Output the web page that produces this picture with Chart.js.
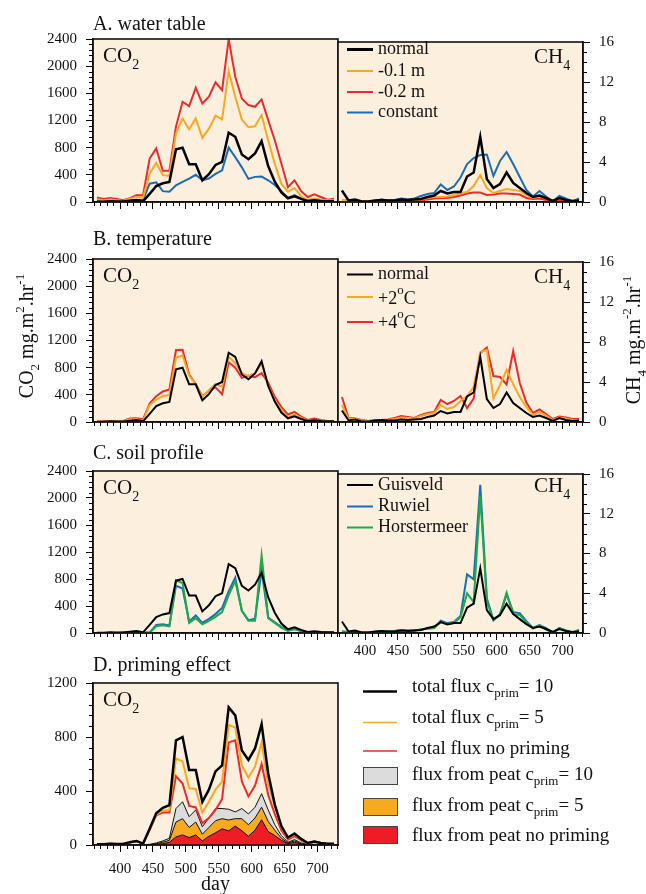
<!DOCTYPE html>
<html><head><meta charset="utf-8">
<script src="https://cdn.jsdelivr.net/npm/chart.js@4/dist/chart.umd.min.js"></script>
<style>
html,body{margin:0;padding:0;background:#fff;}
body{width:646px;height:894px;position:relative;overflow:hidden;}
canvas{position:absolute;}
</style>
</head><body>
<script>
// ---------------- data ----------------
const days = [365,375,385,395,405,415,425,435,445,455,465,475,485,495,505,515,525,535,545,555,565,575,585,595,605,615,625,635,645,655,665,675,685,695,705,715,725];
const xTickLabels = [400,450,500,550,600,650,700];

// A. water table
const co2Normal   = [5,5,10,8,8,20,30,10,120,235,275,295,775,800,555,555,320,410,545,590,1020,960,700,630,715,895,530,300,140,55,85,45,15,25,15,10,10];
const co2Wt01     = [40,25,35,25,15,50,75,65,420,575,395,385,1010,1230,1070,1230,945,1080,1270,1215,1930,1550,1215,1100,1115,1280,910,565,270,150,205,85,25,50,35,25,25];
const co2Wt02     = [65,45,60,45,25,55,100,100,640,790,460,460,1110,1476,1412,1683,1451,1550,1761,1648,2400,1845,1525,1427,1402,1510,1205,910,566,221,320,162,74,113,74,34,49];
const co2Const    = [25,15,20,15,10,25,30,30,270,290,160,150,245,295,345,400,320,345,415,465,800,660,510,340,370,375,320,250,160,60,100,50,10,30,20,10,15];
const ch4Normal   = [1.15,0.15,0.25,0.05,0.05,0.15,0.2,0.15,0.15,0.25,0.2,0.25,0.3,0.5,0.65,1.1,0.85,1.0,1.0,2.55,2.95,6.5,2.3,1.4,1.8,2.95,1.9,1.4,0.9,0.5,0.65,0.4,0.1,0.4,0.2,0.1,0.15];
const ch4Wt01     = [0.2,0.15,0.15,0.1,0.1,0.1,0.15,0.15,0.15,0.2,0.2,0.2,0.25,0.4,0.5,0.5,0.55,0.7,0.9,1.0,1.6,2.7,1.4,0.9,1.1,1.3,1.2,1.1,0.7,0.4,0.55,0.4,0.1,0.35,0.2,0.1,0.15];
const ch4Wt02     = [0.1,0.1,0.1,0.05,0.05,0.05,0.1,0.1,0.1,0.1,0.1,0.1,0.15,0.25,0.35,0.4,0.4,0.5,0.65,0.85,0.95,0.95,0.7,0.75,0.85,0.85,0.8,0.75,0.4,0.3,0.35,0.2,0.05,0.2,0.15,0.05,0.1];
const ch4Const    = [0.15,0.15,0.1,0.05,0.1,0.1,0.25,0.15,0.2,0.35,0.25,0.35,0.6,0.8,0.9,1.75,1.2,1.55,2.45,3.8,4.4,4.7,4.75,2.6,4.1,5.0,3.8,2.5,1.2,0.55,1.1,0.55,0.05,0.6,0.35,0.05,0.35];

// B. temperature
const co2Plus2    = [5,5,10,10,10,40,40,15,250,330,380,400,950,980,680,560,370,470,560,520,960,870,720,680,720,860,540,320,180,70,110,60,20,30,20,10,10];
const co2Plus4    = [5,10,10,10,15,50,55,40,270,380,450,480,1060,1065,700,560,380,460,510,410,880,800,650,680,660,720,580,370,220,110,150,80,30,50,30,15,10];
const ch4Plus2    = [1.7,0.3,0.3,0.15,0.1,0.15,0.15,0.2,0.3,0.45,0.4,0.35,0.6,0.8,0.9,1.7,1.3,1.5,2.1,2.6,3.5,7.0,7.2,2.35,3.7,5.2,3.8,2.5,1.5,0.7,1.0,0.65,0.2,0.45,0.35,0.2,0.2];
const ch4Plus4    = [2.5,0.4,0.35,0.2,0.1,0.2,0.2,0.25,0.4,0.6,0.5,0.4,0.7,0.9,1.0,2.2,1.8,2.1,2.6,1.4,2.35,6.9,7.45,4.6,4.5,3.75,7.1,3.9,1.95,0.9,1.25,0.8,0.3,0.55,0.45,0.3,0.3];

// C. soil profile
const co2Ruwiel   = [0,0,0,0,5,10,10,5,10,120,130,110,700,660,170,260,150,210,280,370,620,820,330,190,210,930,230,160,90,40,60,30,5,15,10,5,5];
const co2Horst    = [0,0,0,0,5,10,10,5,5,100,115,100,780,740,150,220,130,180,240,310,560,770,330,180,180,1150,220,150,80,30,60,30,5,15,10,5,5];
const ch4Ruwiel   = [0.15,0.1,0.15,0.05,0.05,0.1,0.15,0.15,0.2,0.3,0.25,0.25,0.35,0.45,0.5,1.25,1.0,1.1,1.7,5.9,5.4,14.9,3.5,1.3,1.9,3.9,2.1,2.0,1.2,0.5,0.8,0.5,0.05,0.5,0.25,0.05,0.3];
const ch4Horst    = [0.15,0.1,0.15,0.05,0.05,0.1,0.15,0.15,0.2,0.3,0.25,0.25,0.35,0.45,0.5,1.1,0.9,1.0,1.6,4.0,3.1,13.8,3.2,1.3,1.8,4.05,1.9,1.8,1.1,0.45,0.8,0.35,0.05,0.5,0.25,0.05,0.3];

// D. priming effect
const totC5       = [5,5,10,8,8,20,30,10,115,225,255,260,640,620,420,415,240,320,410,470,890,870,590,500,580,760,450,290,130,50,80,40,15,25,15,10,10];
const totNoPrim   = [5,5,10,8,8,20,30,10,110,220,240,240,510,455,290,278,162,200,260,340,760,775,470,360,440,600,370,230,110,40,65,35,10,25,15,5,5];
const peatC10     = [0,0,0,0,0,0,0,0,5,15,30,50,270,320,210,260,135,200,270,270,265,245,270,230,280,380,260,150,70,20,40,15,5,5,3,2,2];
const peatC5      = [0,0,0,0,0,0,0,0,3,10,20,35,170,195,130,170,80,130,180,195,185,195,195,150,200,280,175,110,50,15,30,10,3,3,2,1,1];
const peatNoPrim  = [0,0,0,0,0,0,0,0,2,5,10,20,60,75,55,75,30,65,90,120,105,140,105,65,110,187,100,70,35,10,20,5,2,2,1,0,0];

// ---------------- style ----------------
const FONT = "'Liberation Serif','Times New Roman',serif";
const BG = '#FDEFDD';
const C_BLACK = '#000000', C_ORANGE = '#F8A823', C_RED = '#EE2A2A', C_BLUE = '#1A6DB5', C_GREEN = '#1DAA4A';
const X_MIN = 359, X_MAX = 731;
const L = 93, MID = 338, R = 583;

function pts(ys){ return days.map((d,i)=>({x:d, y:ys[i]})); }
function line(label, ys, color, w){ return {label, data:pts(ys), borderColor:color, borderWidth:w, pointRadius:0, tension:0, fill:false}; }
function area(label, ys, color){ return {label, data:pts(ys), borderColor:'#111', borderWidth:1, backgroundColor:color, pointRadius:0, tension:0, fill:'origin'}; }

function rich(ctx, x, y, parts, base){
  let cx = x;
  for (const p of parts){
    ctx.font = (p.s||base) + 'px ' + FONT;
    ctx.fillText(p.t, cx, y + (p.dy||0));
    cx += ctx.measureText(p.t).width;
  }
  return cx - x;
}
function richW(ctx, parts, base){
  let w = 0;
  for (const p of parts){ ctx.font = (p.s||base) + 'px ' + FONT; w += ctx.measureText(p.t).width; }
  return w;
}

function makeChart(o){
  const cv = document.createElement('canvas');
  cv.width = o.cw; cv.height = o.ch;
  cv.style.left = o.cx + 'px'; cv.style.top = o.cy + 'px';
  cv.style.width = o.cw + 'px'; cv.style.height = o.ch + 'px';
  document.body.appendChild(cv);
  const yLeft = o.yPos === 'left';
  const pad = {top: o.aT - o.cy, bottom: 0, left: yLeft ? 0 : o.aL - o.cx, right: yLeft ? (o.cx + o.cw - o.aR) : 0};
  const yW = yLeft ? (o.aL - o.cx) : (o.cx + o.cw - o.aR);
  const xH = o.cy + o.ch - o.aB;
  const tickFont = {family: FONT, size: 15};
  const deco = {
    id: 'deco',
    beforeDraw(chart){
      const a = chart.chartArea, ctx = chart.ctx;
      ctx.save(); ctx.fillStyle = BG; ctx.fillRect(a.left, a.top, a.right - a.left, a.bottom - a.top); ctx.restore();
    },
    afterDatasetsDraw(chart){
      const a = chart.chartArea, ctx = chart.ctx, xs = chart.scales.x, ys = chart.scales.y;
      ctx.save();
      ctx.strokeStyle = '#000'; ctx.lineWidth = 1;
      ctx.beginPath();
      for (let v = Math.ceil(xs.min/10)*10; v <= xs.max; v += 10){
        if (v % 50 === 0) continue;
        const px = Math.round(xs.getPixelForValue(v)) + 0.5;
        ctx.moveTo(px, a.bottom); ctx.lineTo(px, a.bottom + 4);
      }
      for (let k = 0; k * o.yMinor <= o.yMax + 1e-9; k++){
        const v = k * o.yMinor;
        if (Math.abs(v / o.yStep - Math.round(v / o.yStep)) < 1e-6) continue;
        const py = Math.round(ys.getPixelForValue(v)) + 0.5;
        if (yLeft){ ctx.moveTo(a.left, py); ctx.lineTo(a.left - 4, py); }
        else { ctx.moveTo(a.right, py); ctx.lineTo(a.right + 4, py); }
      }
      ctx.stroke();
      ctx.lineWidth = 1.6; ctx.strokeStyle = '#111';
      ctx.strokeRect(a.left, a.top, a.right - a.left, a.bottom - a.top);
      ctx.restore();
    },
    afterDraw(chart){
      const ctx = chart.ctx;
      ctx.save();
      ctx.translate(-o.cx, -o.cy); // page coordinates
      ctx.fillStyle = '#111';
      ctx.textBaseline = 'alphabetic';
      if (o.draw) o.draw(ctx, chart);
      ctx.restore();
    }
  };
  new Chart(cv, {
    type: 'line',
    data: {datasets: o.datasets},
    options: {
      responsive: false, animation: false, devicePixelRatio: 1,
      layout: {padding: pad},
      plugins: {legend: {display: false}, tooltip: {enabled: false}, title: {display: false}},
      scales: {
        x: {
          type: 'linear', min: X_MIN, max: X_MAX,
          afterFit(s){ s.height = xH; },
          afterBuildTicks(s){ s.ticks = xTickLabels.map(v => ({value: v})); },
          ticks: {display: !!o.xLabels, autoSkip: false, maxRotation: 0, font: tickFont, color: '#111', padding: o.xPad || 2,
                  callback: (v) => String(v)},
          grid: {display: true, drawOnChartArea: false, drawTicks: true, tickLength: 7, color: '#000', lineWidth: 1},
          border: {display: true, color: '#111', width: 1.5},
          title: o.xTitle ? {display: true, text: o.xTitle, font: {family: FONT, size: 20, lineHeight: 1}, color: '#111', padding: {top: 0, bottom: o.xTitlePad || 0}} : {display: false}
        },
        y: {
          type: 'linear', position: o.yPos, min: 0, max: o.yMax,
          afterFit(s){ s.width = yW; },
          ticks: {stepSize: o.yStep, autoSkip: false, font: tickFont, color: '#111', padding: 9,
                  callback: (v) => String(v)},
          grid: {display: true, drawOnChartArea: false, drawTicks: true, tickLength: 7, color: '#000', lineWidth: 1},
          border: {display: true, color: '#111', width: 1.5}
        }
      }
    },
    plugins: [deco]
  });
}

function gasLabel(ctx, x, y, main, sub){
  rich(ctx, x, y, [{t: main}, {t: sub, s: 14, dy: 7}], 21);
}
function co2Label(top){ return (ctx) => gasLabel(ctx, 103, top + 23, 'CO', '2'); }
function ch4Label(ctx, top){ gasLabel(ctx, 534, top + 24, 'CH', '4'); }
function panelTitle(ctx, text, y){ ctx.font = '20px ' + FONT; ctx.fillText(text, L, y); }
function legendLines(ctx, items, base){
  ctx.save();
  for (const it of items){
    ctx.strokeStyle = it.c; ctx.lineWidth = it.w;
    ctx.beginPath(); ctx.moveTo(347, it.ly); ctx.lineTo(373, it.ly); ctx.stroke();
    ctx.textBaseline = 'middle';
    rich(ctx, 378, it.ty, it.parts, base);
  }
  ctx.restore();
}

// ---------------- panel A ----------------
const A = {t: 39, b: 202};
makeChart({cx: 0, cy: 5, cw: MID + 3, ch: A.b - 5 + 20, aL: L, aR: MID, aT: A.t, aB: A.b, yPos: 'left', yMax: 2400, yStep: 400, yMinor: 80,
  datasets: [line('normal', co2Normal, C_BLACK, 2.5), line('-0.1 m', co2Wt01, C_ORANGE, 2), line('-0.2 m', co2Wt02, C_RED, 2), line('constant', co2Const, C_BLUE, 2)],
  draw(ctx){ panelTitle(ctx, 'A. water table', 30); co2Label(A.t)(ctx); }
});
makeChart({cx: MID - 3, cy: A.t - 15, cw: 646 - MID + 3, ch: A.b - A.t + 15 + 20, aL: MID, aR: R, aT: A.t, aB: A.b, yPos: 'right', yMax: 16, yStep: 4, yMinor: 1,
  datasets: [line('normal', ch4Normal, C_BLACK, 2.5), line('-0.1 m', ch4Wt01, C_ORANGE, 2), line('-0.2 m', ch4Wt02, C_RED, 2), line('constant', ch4Const, C_BLUE, 2)],
  draw(ctx){
    ch4Label(ctx, A.t);
    legendLines(ctx, [
      {c: C_BLACK, w: 3, ly: 49.5, ty: 49.5, parts: [{t: 'normal'}]},
      {c: C_ORANGE, w: 2, ly: 71, ty: 71, parts: [{t: '-0.1 m'}]},
      {c: C_RED, w: 2, ly: 92, ty: 92, parts: [{t: '-0.2 m'}]},
      {c: C_BLUE, w: 2, ly: 112.5, ty: 112.5, parts: [{t: 'constant'}]}
    ], 18);
  }
});

// ---------------- panel B ----------------
const B = {t: 259, b: 422};
makeChart({cx: 0, cy: 225, cw: MID + 3, ch: B.b - 225 + 20, aL: L, aR: MID, aT: B.t, aB: B.b, yPos: 'left', yMax: 2400, yStep: 400, yMinor: 80,
  datasets: [line('normal', co2Normal, C_BLACK, 2), line('+2°C', co2Plus2, C_ORANGE, 2), line('+4°C', co2Plus4, C_RED, 2)],
  draw(ctx){
    panelTitle(ctx, 'B. temperature', 245); co2Label(B.t)(ctx);
    const parts = [{t: 'CO'}, {t: '2', s: 13, dy: 6}, {t: ' mg.m'}, {t: '2', s: 13, dy: -9}, {t: '.hr'}, {t: '-1', s: 13, dy: -9}];
    ctx.save(); ctx.translate(33, 336); ctx.rotate(-Math.PI/2);
    const w = richW(ctx, parts, 20); rich(ctx, -w/2, 0, parts, 20); ctx.restore();
  }
});
makeChart({cx: MID - 3, cy: B.t - 15, cw: 646 - MID + 3, ch: B.b - B.t + 15 + 20, aL: MID, aR: R, aT: B.t, aB: B.b, yPos: 'right', yMax: 16, yStep: 4, yMinor: 1,
  datasets: [line('normal', ch4Normal, C_BLACK, 2), line('+2°C', ch4Plus2, C_ORANGE, 2), line('+4°C', ch4Plus4, C_RED, 2)],
  draw(ctx){
    ch4Label(ctx, B.t);
    legendLines(ctx, [
      {c: C_BLACK, w: 2, ly: 274.5, ty: 274, parts: [{t: 'normal'}]},
      {c: C_ORANGE, w: 2, ly: 297, ty: 299, parts: [{t: '+2'}, {t: 'o', s: 13, dy: -8}, {t: 'C'}]},
      {c: C_RED, w: 2, ly: 322, ty: 323, parts: [{t: '+4'}, {t: 'o', s: 13, dy: -8}, {t: 'C'}]}
    ], 18);
    const parts = [{t: 'CH'}, {t: '4', s: 13, dy: 6}, {t: ' mg.m'}, {t: '-2', s: 13, dy: -9}, {t: '.hr'}, {t: '-1', s: 13, dy: -9}];
    ctx.save(); ctx.translate(640, 340); ctx.rotate(-Math.PI/2);
    const w = richW(ctx, parts, 20); rich(ctx, -w/2, 0, parts, 20); ctx.restore();
  }
});

// ---------------- panel C ----------------
const C = {t: 471, b: 633};
makeChart({cx: 0, cy: 437, cw: MID + 3, ch: C.b - 437 + 20, aL: L, aR: MID, aT: C.t, aB: C.b, yPos: 'left', yMax: 2400, yStep: 400, yMinor: 80,
  datasets: [line('Guisveld', co2Normal, C_BLACK, 2), line('Horstermeer', co2Horst, C_GREEN, 2), line('Ruwiel', co2Ruwiel, C_BLUE, 2)],
  draw(ctx){ panelTitle(ctx, 'C. soil profile', 459); co2Label(C.t)(ctx); }
});
makeChart({cx: MID - 3, cy: C.t - 15, cw: 646 - MID + 3, ch: C.b - C.t + 15 + 32, aL: MID, aR: R, aT: C.t, aB: C.b, yPos: 'right', yMax: 16, yStep: 4, yMinor: 1,
  xLabels: true, xPad: 2,
  datasets: [line('Guisveld', ch4Normal, C_BLACK, 2), line('Horstermeer', ch4Horst, C_GREEN, 2), line('Ruwiel', ch4Ruwiel, C_BLUE, 2)],
  draw(ctx){
    ch4Label(ctx, C.t - 3);
    legendLines(ctx, [
      {c: C_BLACK, w: 2, ly: 485, ty: 485, parts: [{t: 'Guisveld'}]},
      {c: C_BLUE, w: 2, ly: 506.5, ty: 506.5, parts: [{t: 'Ruwiel'}]},
      {c: C_GREEN, w: 2, ly: 527.5, ty: 527.5, parts: [{t: 'Horstermeer'}]}
    ], 18);
  }
});

// ---------------- panel D ----------------
const D = {t: 683, b: 845};
makeChart({cx: 0, cy: 645, cw: 646, ch: 900 - 645, aL: L, aR: MID, aT: D.t, aB: D.b, yPos: 'left', yMax: 1200, yStep: 400, yMinor: 80,
  xLabels: true, xPad: 8, xTitle: 'day', xTitlePad: 5,
  datasets: [
    line('total flux c_prim = 10', co2Normal, C_BLACK, 2.5),
    line('total flux c_prim = 5', totC5, C_ORANGE, 2),
    line('total flux no priming', totNoPrim, C_RED, 2),
    area('flux from peat no priming', peatNoPrim, '#EE1C24'),
    area('flux from peat c_prim = 5', peatC5, '#F8AA1E'),
    area('flux from peat c_prim = 10', peatC10, '#DCDCDC')
  ],
  draw(ctx){
    panelTitle(ctx, 'D. priming effect', 670.5); co2Label(D.t)(ctx);
    const sub = (t) => ({t: t, s: 13, dy: 7});
    const rows = [
      {type: 'line', c: C_BLACK, w: 2.5, y: 691.5, ty: 687, parts: [{t: 'total flux c'}, sub('prim'), {t: '= 10'}]},
      {type: 'line', c: C_ORANGE, w: 1.5, y: 722.5, ty: 718, parts: [{t: 'total flux c'}, sub('prim'), {t: '= 5'}]},
      {type: 'line', c: C_RED, w: 1.5, y: 751, ty: 749, parts: [{t: 'total flux no priming'}]},
      {type: 'box', c: '#DCDCDC', y: 767, ty: 775, parts: [{t: 'flux from peat c'}, sub('prim'), {t: '= 10'}]},
      {type: 'box', c: '#F8AA1E', y: 798, ty: 806, parts: [{t: 'flux from peat c'}, sub('prim'), {t: '= 5'}]},
      {type: 'box', c: '#EE1C24', y: 826, ty: 836.5, parts: [{t: 'flux from peat no priming'}]}
    ];
    for (const r of rows){
      ctx.save();
      if (r.type === 'line'){
        ctx.strokeStyle = r.c; ctx.lineWidth = r.w;
        ctx.beginPath(); ctx.moveTo(363, r.y); ctx.lineTo(397, r.y); ctx.stroke();
      } else {
        ctx.fillStyle = r.c; ctx.fillRect(363, r.y, 34, 17);
        ctx.strokeStyle = '#444'; ctx.lineWidth = 1; ctx.strokeRect(363.5, r.y + 0.5, 34, 17);
      }
      ctx.restore();
      ctx.save(); ctx.fillStyle = '#111'; ctx.textBaseline = 'middle';
      rich(ctx, 412, r.ty, r.parts, 19);
      ctx.restore();
    }
  }
});
</script>
</body></html>
